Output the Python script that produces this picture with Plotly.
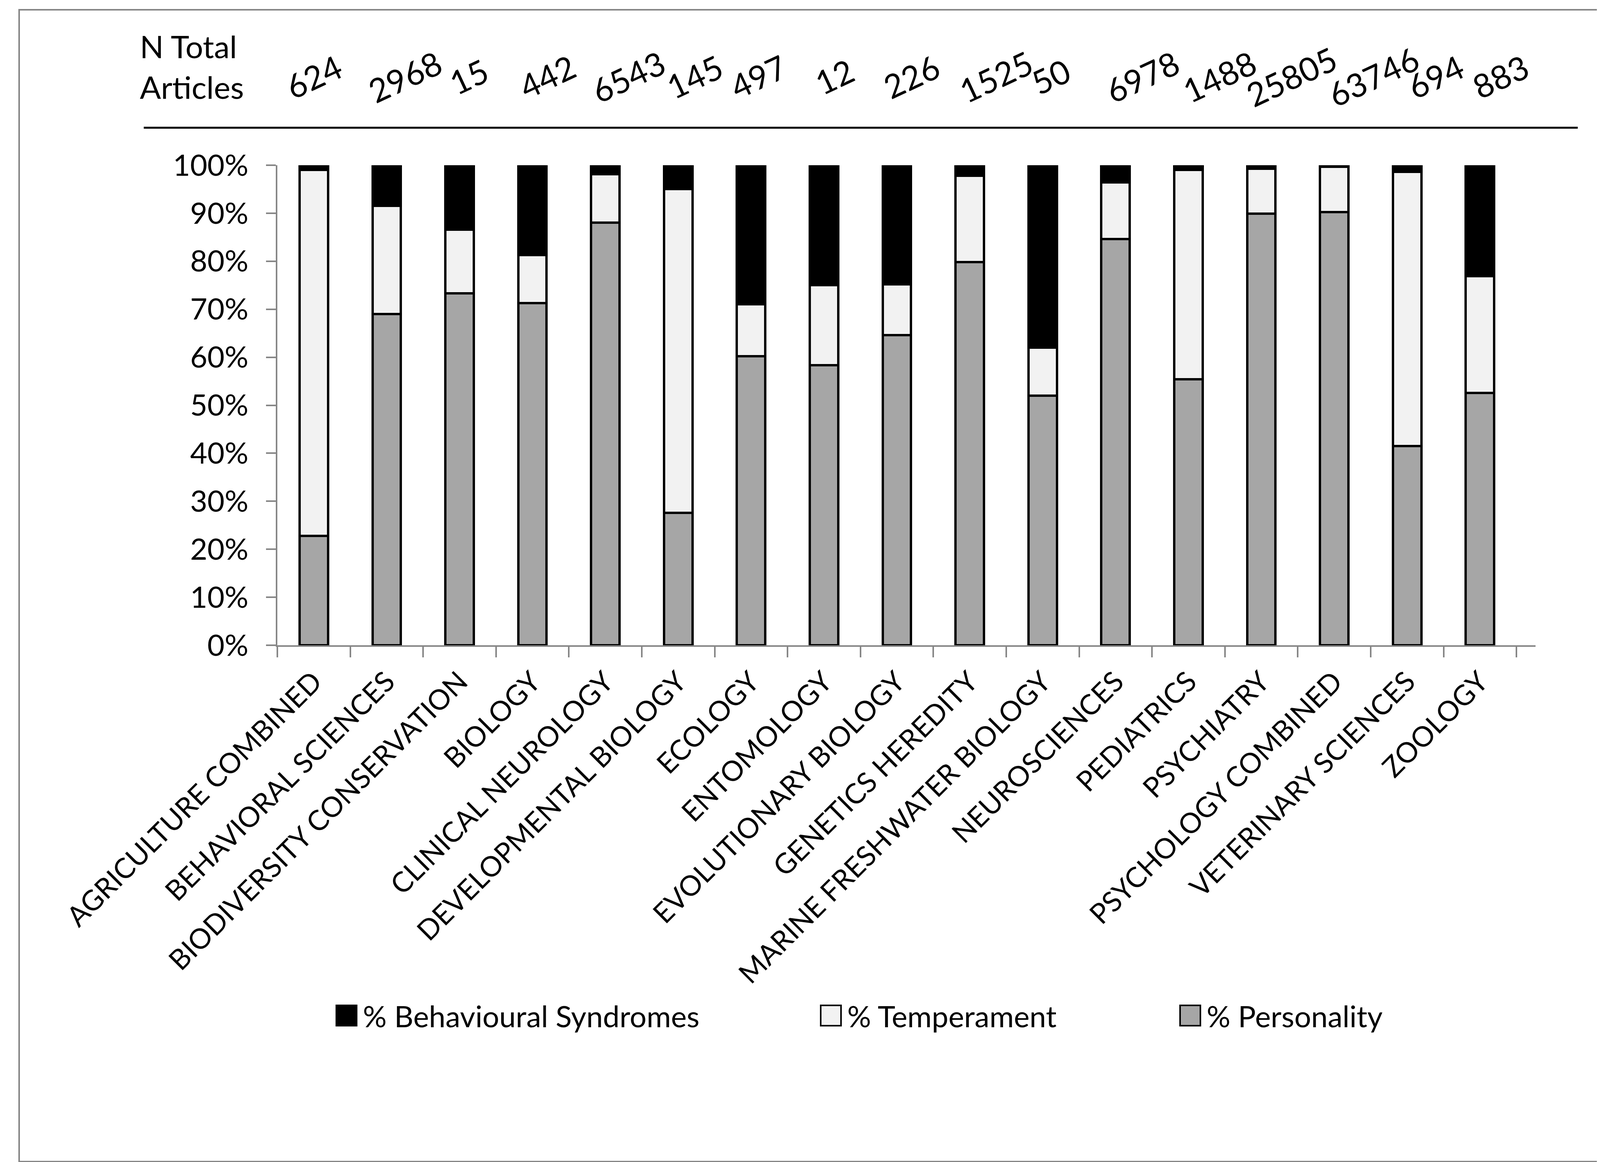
import plotly.graph_objects as go

# data
categories = ["AGRICULTURE COMBINED", "BEHAVIORAL SCIENCES", "BIODIVERSITY CONSERVATION",
              "BIOLOGY", "CLINICAL NEUROLOGY", "DEVELOPMENTAL BIOLOGY", "ECOLOGY",
              "ENTOMOLOGY", "EVOLUTIONARY BIOLOGY", "GENETICS HEREDITY",
              "MARINE FRESHWATER BIOLOGY", "NEUROSCIENCES", "PEDIATRICS", "PSYCHIATRY",
              "PSYCHOLOGY COMBINED", "VETERINARY SCIENCES", "ZOOLOGY"]
n_total = [624, 2968, 15, 442, 6543, 145, 497, 12, 226, 1525, 50, 6978, 1488, 25805, 63746, 694, 883]
pct_personality = [22.8, 69.0, 73.3, 71.3, 88.0, 27.6, 60.2, 58.3, 64.6, 79.8, 52.0, 84.6, 55.4, 89.9, 90.2, 41.5, 52.6]
pct_temperament = [76.2, 22.5, 13.3, 10.0, 10.1, 67.4, 10.8, 16.7, 10.6, 18.0, 10.0, 11.8, 43.6, 9.4, 9.5, 57.1, 24.3]
pct_syndromes = [1.0, 8.5, 13.4, 18.7, 1.9, 5.0, 29.0, 25.0, 24.8, 2.2, 38.0, 3.6, 1.0, 0.7, 0.3, 1.4, 23.1]
y_ticks = [0, 10, 20, 30, 40, 50, 60, 70, 80, 90, 100]
y_tick_labels = [f"{v}%" for v in y_ticks]

# page geometry (pixels)
W, H = 4161, 2975
L, R, T, B = 702, 3923, 415, 1644
FONT = "Lato"
FS = 74
GREY = "#868686"


def px_x(px):
    return (px - L) / (R - L)


def px_y(py):
    return (B - py) / (B - T)


series = [
    ("% Personality", pct_personality, "#A6A6A6"),
    ("% Temperament", pct_temperament, "#F2F2F2"),
    ("% Behavioural Syndromes", pct_syndromes, "#000000"),
]

fig = go.Figure()
for name, vals, col in series:
    fig.add_trace(go.Bar(x=categories, y=vals, name=name, width=0.39,
                         marker=dict(color=col, line=dict(color="black", width=6))))

# N total row; the labels drift right a little in the original
n_shift = [0, 47, 23, 38, 59, 42, 18, 26, 37, 67, 20, 69, 79, 77, 100, 73, 52]
for cat, n, dx in zip(categories, n_total, n_shift):
    fig.add_annotation(x=cat, xref="x", y=px_y(187), yref="paper", text=str(n),
                       showarrow=False, textangle=-25, xshift=dx,
                       xanchor="center", yanchor="middle",
                       font=dict(family=FONT, size=84, color="black"))
fig.add_annotation(x=px_x(348), xref="paper", y=px_y(162), yref="paper",
                   text="N Total<br>Articles", showarrow=False, align="left",
                   xanchor="left", yanchor="middle",
                   font=dict(family=FONT, size=80, color="black"))
fig.add_shape(type="line", xref="paper", yref="paper", x0=px_x(360), x1=px_x(4031),
              y0=px_y(319), y1=px_y(319), line=dict(color="black", width=5))

# legend drawn by hand so the swatches match the big squares
leg_pos = [(853, "% Behavioural Syndromes", "#000000"),
           (2093, "% Temperament", "#F2F2F2"),
           (3013, "% Personality", "#A6A6A6")]
ly = 2592
for x0, name, col in leg_pos:
    fig.add_shape(type="rect", xref="paper", yref="paper",
                  x0=px_x(x0), x1=px_x(x0 + 52), y0=px_y(ly - 26), y1=px_y(ly + 26),
                  fillcolor=col, line=dict(color="black", width=4))
    fig.add_annotation(x=px_x(x0 + 66), xref="paper", y=px_y(ly), yref="paper",
                       text=name, showarrow=False, xanchor="left", yanchor="middle",
                       font=dict(family=FONT, size=76, color="black"))

# outer frame
fig.add_shape(type="rect", xref="paper", yref="paper", x0=px_x(41), x1=px_x(4119),
              y0=px_y(2966), y1=px_y(17), line=dict(color=GREY, width=4))

fig.update_layout(
    width=W, height=H,
    margin=dict(l=L, r=W - R, t=T, b=H - B),
    barmode="stack", showlegend=False,
    plot_bgcolor="white", paper_bgcolor="white",
    font=dict(family=FONT, size=FS, color="black"),
)
fig.update_xaxes(tickangle=-45, showline=True, linecolor=GREY, linewidth=4,
                 ticks="outside", tickson="boundaries", ticklen=27, tickwidth=4,
                 tickcolor=GREY, showgrid=False, tickfont=dict(size=72),
                 ticklabelstandoff=18, automargin=False)
fig.update_yaxes(range=[0, 100], tickvals=y_ticks, ticktext=y_tick_labels, showline=True,
                 linecolor=GREY, linewidth=4, ticks="outside", ticklen=25, tickwidth=4,
                 tickcolor=GREY, showgrid=False, zeroline=False, tickfont=dict(size=76),
                 ticklabelstandoff=30, automargin=False)

fig.write_html("out.html")
